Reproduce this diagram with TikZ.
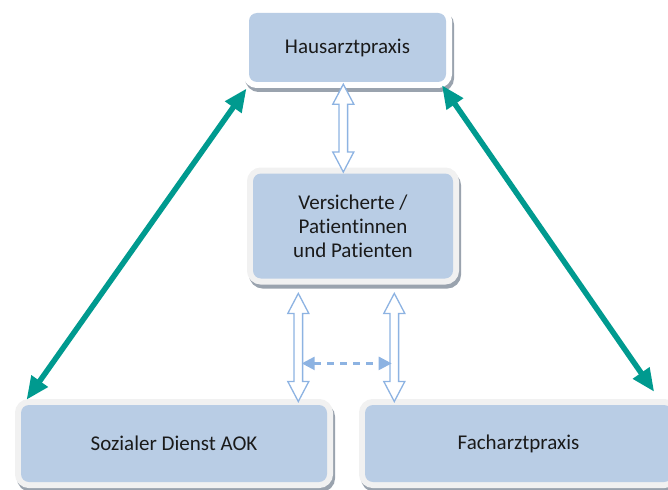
\documentclass[tikz,border=0pt]{standalone}
\usepackage{fontspec}
\setmainfont{Carlito}[Ligatures=NoCommon]
\usetikzlibrary{arrows.meta,calc}
\definecolor{boxblue}{HTML}{B9CDE5}
\definecolor{framegray}{HTML}{F1F1F1}
\definecolor{shadowgray}{HTML}{9AA3AE}
\definecolor{linkteal}{HTML}{009A8F}
\definecolor{arrowblue}{HTML}{8DB3E2}
\definecolor{textdark}{HTML}{1A1A1A}

% hollow double block arrow between a top tip and a bottom tip
\newcommand\hollowarrow[2]{%
  \draw[blockarrow] let \p1=(#1), \p2=(#2) in
    (\x1,\y1) -- (\x1+10.5pt,\y1-20pt) -- (\x1+4.3pt,\y1-20pt)
    -- (\x1+4.3pt,\y2+20pt) -- (\x1+10.5pt,\y2+20pt) -- (\x1,\y2)
    -- (\x1-10.5pt,\y2+20pt) -- (\x1-4.3pt,\y2+20pt)
    -- (\x1-4.3pt,\y1-20pt) -- (\x1-10.5pt,\y1-20pt) -- cycle;}

\begin{document}
\begin{tikzpicture}[x=1pt,y=-1pt,
  card/.style={rounded corners=8pt, fill=boxblue, text=textdark,
    align=center, inner sep=0pt,
    font=\fontsize{21}{24}\selectfont,
    preaction={draw=shadowgray, line width=12pt,
      transform canvas={shift={(2pt,-4pt)}}},
    preaction={draw=#1, line width=12pt}},
  card/.default=framegray,
  tealarrow/.style={draw=linkteal, line width=5.5pt,
    {Triangle[length=23pt,width=19pt]}-{Triangle[length=23pt,width=19pt]}},
  blockarrow/.style={draw=arrowblue, fill=white, line width=1.3pt,
    line join=miter},
  dashedlink/.style={draw=arrowblue, line width=2.5pt,
    dash pattern=on 7pt off 6pt,
    {Triangle[length=13pt,width=13pt]}-{Triangle[length=13pt,width=13pt]}}]
\useasboundingbox (0,0) rectangle (668,489);

% boxes
\node[card=white, minimum width=197pt, minimum height=69pt]
  (haus) at (347.5,47.5) {Hausarztpraxis};
\node[card, minimum width=200pt, minimum height=105pt]
  (vers) at (353,226) {Versicherte /\\Patientinnen\\und Patienten};
\node[card, minimum width=306pt, minimum height=77pt]
  (soz) at (174,443.5) {Sozialer Dienst AOK};
\node[card, minimum width=307pt, minimum height=77pt]
  (fach) at (518.5,443.5) {Facharztpraxis};

% end points of the connectors
\coordinate (tl1) at ($(haus.south west)+(-2.3,6.3)$);
\coordinate (tl2) at ($(soz.north west)+(5.7,-5)$);
\coordinate (tr1) at ($(haus.south east)+(-4.3,3)$);
\coordinate (tr2) at ($(fach.north east)+(-18,-13)$);
\coordinate (a1) at ($(haus.south)+(-4.2,2)$);
\coordinate (a2) at ($(vers.north)+(-9.7,-1.3)$);
\coordinate (b1) at ($(vers.south)+(-54.7,14.7)$);
\coordinate (b2) at ($(soz.north)+(124.3,-3.3)$);
\coordinate (c1) at ($(vers.south)+(41.3,14.7)$);
\coordinate (c2) at ($(fach.north)+(-124.2,-3.3)$);
\coordinate (d1) at ($(b1)+(3.4,70)$);
\coordinate (d2) at ($(c1)+(-2.6,70)$);

% connectors
\hollowarrow{a1}{a2}
\hollowarrow{b1}{b2}
\hollowarrow{c1}{c2}
\draw[dashedlink] (d1) -- (d2);
\draw[tealarrow] (tl1) -- (tl2);
\draw[tealarrow] (tr1) -- (tr2);
\end{tikzpicture}
\end{document}
